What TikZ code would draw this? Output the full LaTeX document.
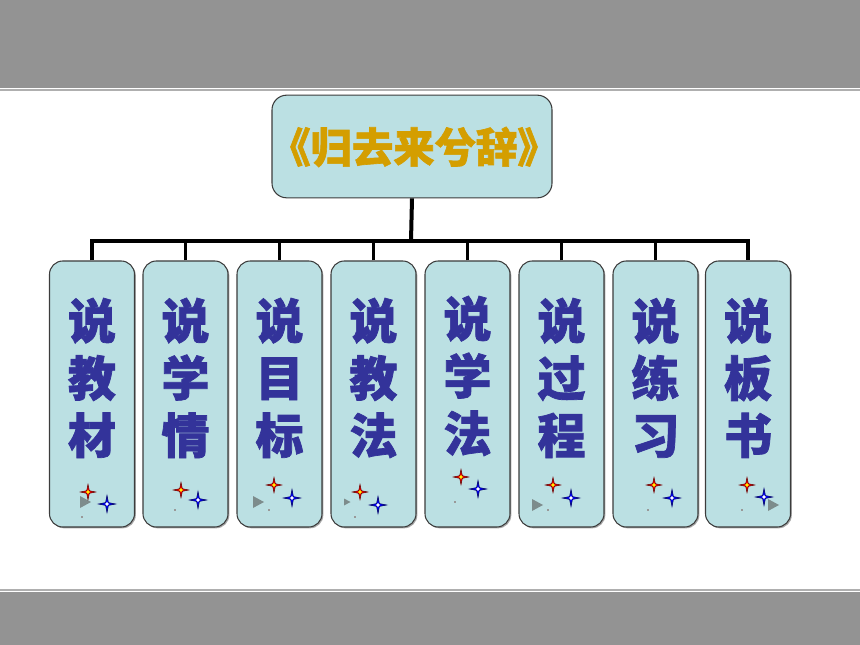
\documentclass[tikz,border=0pt]{standalone}
\usepackage{fontspec}
\newfontfamily\cjk{Noto Sans CJK SC}[BoldFeatures={FakeBold=1.5}]
\usetikzlibrary{shadows}
\definecolor{band}{RGB}{147,147,147}
\definecolor{bandline}{RGB}{175,175,175}
\definecolor{boxfill}{RGB}{187,224,227}
\definecolor{boxedge}{RGB}{60,60,60}
\definecolor{titlegold}{RGB}{212,158,0}
\definecolor{charblue}{RGB}{51,51,154}
\definecolor{trigray}{RGB}{125,140,140}
\tikzset{
  x=0.75pt,y=-0.75pt,
  box/.style={draw=boxedge,line width=0.8pt,fill=boxfill,rounded corners=10pt,
     minimum width=63.75pt,minimum height=199.5pt,inner sep=0pt,
     drop shadow={shadow xshift=1pt,shadow yshift=-1pt,fill=gray!70,opacity=1}},
  titlebox/.style={draw=boxedge,line width=0.8pt,fill=boxfill,rounded corners=11pt,
     minimum width=210pt,minimum height=77pt,inner sep=0pt},
  chars/.style={font=\cjk\bfseries\fontsize{36}{43}\selectfont,text=charblue,align=center,inner sep=0pt},
  conn/.style={line width=2.3pt,black},
  redstar/.pic={
    \filldraw[fill=red,draw=red!40!black,line width=0.45pt]
      (-7.5,0)--(-1.3,-1.3)--(0,-7.5)--(1.3,-1.3)--(7.5,0)--(1.3,1.3)--(0,7.5)--(-1.3,1.3)--cycle;
    \fill[yellow] (0,0) circle (1.4pt);},
  bluestar/.pic={
    \filldraw[fill=blue,draw=blue!40!black,line width=0.45pt]
      (-8.5,0)--(-1.4,-1.4)--(0,-8.5)--(1.4,-1.4)--(8.5,0)--(1.4,1.4)--(0,8.5)--(-1.4,1.4)--cycle;
    \fill[white] (0,0) circle (1.4pt);},
  tri/.pic={\fill[trigray] (-5,-6)--(6,0)--(-5,6)--cycle;},
  smalltri/.pic={\fill[trigray] (-3,-3.5)--(3.5,0)--(-3,3.5)--cycle;},
  dot/.pic={\fill[gray!80] (-1.2,-1.2) rectangle (1.2,1.2);},
}
\begin{document}
\begin{tikzpicture}
\useasboundingbox (0,0) rectangle (860,645);
% bands
\fill[band] (0,0) rectangle (860,88);
\fill[bandline] (0,89.5) rectangle (860,91.5);
\fill[bandline] (0,588.5) rectangle (860,590.5);
\fill[band] (0,592) rectangle (860,645);
% title
\node[titlebox] (title) at (412,146.5) {};
\node[font=\cjk\bfseries\fontsize{31}{33}\selectfont,text=titlegold,inner sep=0pt] (ttext) at (414,147) {《归去来兮辞》};
% boxes
\foreach \i/\x in {1/92,2/185.5,3/279.5,4/373.5,5/467.5,6/561.5,7/655.5,8/748}{
  \node[box] (b\i) at (\x,394) {};
}
\coordinate (bus) at (411,241);
\draw[conn,line width=3pt] (title.south) -- (bus);
\draw[conn] (b1.north) |- (bus) -| (b8.north);
\foreach \i in {2,...,7}{\draw[conn] (b\i.north) -- (b\i.north |- bus);}
% texts
\node[chars] (t1) at (92,378) {说\\教\\材};
\node[chars] (t2) at (185.5,378) {说\\学\\情};
\node[chars] (t3) at (279.5,378) {说\\目\\标};
\node[chars] (t4) at (373.5,378) {说\\教\\法};
\node[chars] (t5) at (467.5,376) {说\\学\\法};
\node[chars] (t6) at (561.5,378) {说\\过\\程};
\node[chars] (t7) at (655.5,378) {说\\练\\习};
\node[chars] (t8) at (748,378) {说\\板\\书};
% sparkles
\pic at (85,502) {tri}; \pic at (88,492) {redstar}; \pic at (107,504) {bluestar}; \pic at (82,517) {dot};
\pic at (181,490) {redstar}; \pic at (198,500) {bluestar}; \pic at (175,510) {dot};
\pic at (258,502) {tri}; \pic at (274,485) {redstar}; \pic at (292,498) {bluestar}; \pic at (269,510) {dot};
\pic at (347,502) {smalltri}; \pic at (360,492) {redstar}; \pic at (378,505) {bluestar}; \pic at (355,517) {dot};
\pic at (461,477) {redstar}; \pic at (478,489) {bluestar}; \pic at (455,502) {dot};
\pic at (537,505) {tri}; \pic at (553,485) {redstar}; \pic at (571,498) {bluestar}; \pic at (548,510) {dot};
\pic at (654,485) {redstar}; \pic at (672,498) {bluestar}; \pic at (648,510) {dot};
\pic at (747,485) {redstar}; \pic at (764,497) {bluestar}; \pic at (773,505) {tri}; \pic at (742,510) {dot};
\end{tikzpicture}
\end{document}
